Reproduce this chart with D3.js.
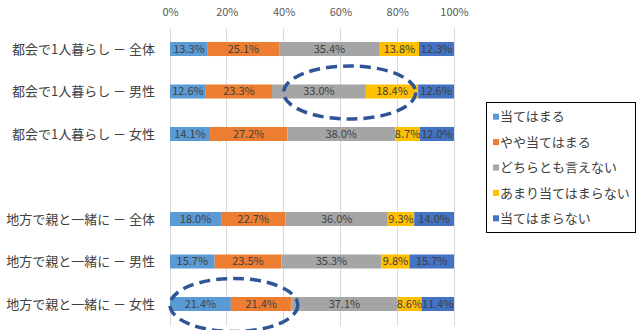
<!DOCTYPE html>
<html><head><meta charset="utf-8">
<script src="https://cdn.jsdelivr.net/npm/d3@7"></script>
<style>
body{margin:0;background:#fff;}
text{font-family:"Noto Sans CJK JP","Noto Sans",sans-serif;}
</style></head>
<body><svg id="c" width="641" height="330"></svg>
<script>
const categories = ["都会で1人暮らし － 全体","都会で1人暮らし － 男性","都会で1人暮らし － 女性","","地方で親と一緒に － 全体","地方で親と一緒に － 男性","地方で親と一緒に － 女性"];
const seriesNames = ["当てはまる","やや当てはまる","どちらとも言えない","あまり当てはまらない","当てはまらない"];
const seriesColors = ["#5B9BD5","#ED7D31","#A5A5A5","#FFC000","#4472C4"];
const s1 = [13.3,12.6,14.1,null,18.0,15.7,21.4];
const s2 = [25.1,23.3,27.2,null,22.7,23.5,21.4];
const s3 = [35.4,33.0,38.0,null,36.0,35.3,37.1];
const s4 = [13.8,18.4,8.7,null,9.3,9.8,8.6];
const s5 = [12.3,12.6,12.0,null,14.0,15.7,11.4];
const ticks = [0,0.2,0.4,0.6,0.8,1.0];
// highlighted ellipses: [row index, from value, to value]
const highlights = [[1,0.40,0.865],[6,0,0.45]];

const series = [s1,s2,s3,s4,s5];
const svg = d3.select("#c");
const x = d3.scaleLinear().domain([0,1]).range([170,454]);
const y = d3.scaleBand().domain(d3.range(categories.length)).range([27.75,325.25]).paddingInner(0.67).paddingOuter(0.335);

// gridlines
svg.append("g").selectAll("line").data(ticks).join("line")
  .attr("x1",d=>x(d)).attr("x2",d=>x(d)).attr("y1",27.5).attr("y2",325.5)
  .attr("stroke","#d9d9d9").attr("stroke-width",1).attr("shape-rendering","crispEdges");

// top axis labels
const ax = d3.axisTop(x).tickValues(ticks).tickFormat(d3.format(".0%")).tickSize(0).tickPadding(0);
const axg = svg.append("g").attr("transform","translate(0,16)").call(ax);
axg.select(".domain").remove();
axg.selectAll("text").attr("font-size",11).attr("fill","#595959").style("font-family",'"Noto Sans CJK JP",sans-serif');

// category labels
svg.append("g").selectAll("text").data(categories).join("text")
  .attr("x",155).attr("y",(d,i)=>y(i)+y.bandwidth()/2).attr("dy","0.35em")
  .attr("text-anchor","end").attr("font-size",13).attr("fill","#404040").text(d=>d);

// bars
categories.forEach((c,i)=>{
  if(s1[i]===null) return;
  const vals = series.map(s=>s[i]);
  const total = d3.sum(vals);
  let acc = 0;
  vals.forEach((v,k)=>{
    const x0 = x(acc/total), x1 = x((acc+v)/total);
    svg.append("rect").attr("x",x0).attr("y",y(i)).attr("width",x1-x0).attr("height",y.bandwidth()).attr("fill",seriesColors[k]);
    svg.append("text").attr("x",(x0+x1)/2).attr("y",y(i)+y.bandwidth()/2).attr("dy","0.36em")
      .attr("text-anchor","middle").attr("font-size",11).attr("fill","#404040").text(v.toFixed(1)+"%");
    acc += v;
  });
});

// ellipses
highlights.forEach(([r,a,b])=>{
  svg.append("ellipse").attr("cx",(x(a)+x(b))/2).attr("cy",y(r)+y.bandwidth()/2+1)
    .attr("rx",(x(b)-x(a))/2).attr("ry",26.5)
    .attr("fill","none").attr("stroke","#2F5597").attr("stroke-width",3.5).attr("stroke-dasharray","11,6");
});

// legend
const lg = svg.append("g");
lg.append("rect").attr("x",486.5).attr("y",102.5).attr("width",149).attr("height",130).attr("fill","#fff").attr("stroke","#000").attr("stroke-width",1);
seriesNames.forEach((n,k)=>{
  const yy = 116.7 + k*25.4;
  lg.append("rect").attr("x",493).attr("y",yy-3).attr("width",6).attr("height",6).attr("fill",seriesColors[k]);
  lg.append("text").attr("x",500).attr("y",yy).attr("dy","0.36em").attr("font-size",13).attr("fill","#404040").text(n);
});
</script></body></html>
